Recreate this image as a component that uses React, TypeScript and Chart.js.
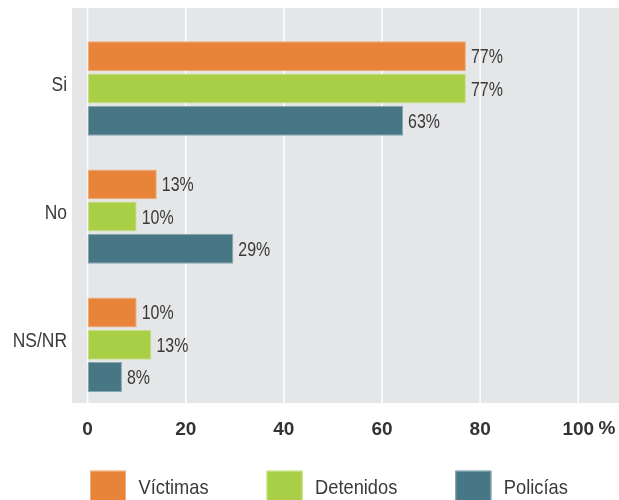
import { useEffect, useRef } from "react";
import { Chart, registerables } from "chart.js";

Chart.register(...registerables);

// ---- data ----
const categories = ["Si", "No", "NS/NR"];
const seriesNames = ["Víctimas", "Detenidos", "Policías"];
const victimas = [77.1, 14.1, 10.0];
const detenidos = [77.1, 10.0, 13.0];
const policias = [64.3, 29.7, 7.0];
const victimasLabels = ["77%", "13%", "10%"];
const detenidosLabels = ["77%", "10%", "13%"];
const policiasLabels = ["63%", "29%", "8%"];
const xTicks = [0, 20, 40, 60, 80, 100];
const xUnit = "%";

const COLORS = ["#E8833A", "#A9CF46", "#477784"];
const EDGES = ["#F2AE7A", "#CBE38A", "#86A8B2"];
const SANS = "'Liberation Sans', Arial, sans-serif";
const TEXT = "#3a3a3a";

const allLabels = [victimasLabels, detenidosLabels, policiasLabels];

// draw text horizontally condensed (the reference uses a condensed face)
function condensedText(ctx: CanvasRenderingContext2D, text: string, x: number, y: number, sx: number, align: "left" | "right") {
  ctx.save();
  ctx.translate(x, y);
  ctx.scale(sx, 1);
  ctx.textAlign = align;
  ctx.fillText(text, 0, 0);
  ctx.restore();
}

const decorPlugin = {
  id: "decor",
  beforeDraw(chart: any) {
    const { ctx, chartArea: a, scales } = chart;
    const x = scales.x;
    const top = a.top - 16.5;
    const bottom = a.bottom - 5.7;
    ctx.save();
    ctx.fillStyle = "#E5E6E8";
    ctx.fillRect(a.left, top, a.right - a.left, bottom - top);
    ctx.strokeStyle = "#FFFFFF";
    ctx.lineWidth = 1.5;
    xTicks.forEach((v) => {
      const px = x.getPixelForValue(v);
      ctx.beginPath();
      ctx.moveTo(px, top);
      ctx.lineTo(px, bottom);
      ctx.stroke();
    });
    ctx.restore();
  },
  afterDatasetsDraw(chart: any) {
    const { ctx, chartArea: a, scales } = chart;
    ctx.save();
    ctx.fillStyle = TEXT;
    ctx.textBaseline = "alphabetic";

    // value labels
    ctx.font = `21px ${SANS}`;
    chart.data.datasets.forEach((_ds: any, di: number) => {
      const meta = chart.getDatasetMeta(di);
      meta.data.forEach((el: any, i: number) => {
        condensedText(ctx, allLabels[di][i], el.x + 5, el.y + 7, 0.76, "left");
      });
    });

    // category labels
    ctx.font = `21px ${SANS}`;
    categories.forEach((c, i) => {
      const py = scales.y.getPixelForValue(i);
      condensedText(ctx, c, a.left - 5, py + 2.5, 0.83, "right");
    });

    // axis unit
    ctx.font = `bold 19px ${SANS}`;
    ctx.fillStyle = "#333333";
    ctx.textAlign = "center";
    ctx.fillText(xUnit, a.right - 12, a.bottom + 25.6);

    // legend
    const boxTop = a.bottom + 62;
    const baseY = a.bottom + 85.6;
    let lx = scales.x.getPixelForValue(0) + 2.4;
    ctx.font = `21px ${SANS}`;
    chart.data.datasets.forEach((ds: any) => {
      ctx.fillStyle = ds.backgroundColor;
      ctx.fillRect(lx, boxTop, 36, 40);
      ctx.strokeStyle = ds.borderColor;
      ctx.lineWidth = 1;
      ctx.strokeRect(lx + 0.5, boxTop + 0.5, 35, 40);
      ctx.fillStyle = TEXT;
      const tx = lx + 36 + 12.5;
      condensedText(ctx, ds.label, tx, baseY, 0.87, "left");
      const w = ctx.measureText(ds.label).width * 0.87;
      lx = tx + w + 58;
    });
    ctx.restore();
  },
};

export default function App() {
  const ref = useRef<HTMLCanvasElement | null>(null);

  useEffect(() => {
    document.body.style.margin = "0";
    if (!ref.current) return;
    const series = [victimas, detenidos, policias];
    const chart = new Chart(ref.current, {
      type: "bar",
      data: {
        labels: categories,
        datasets: series.map((d, i) => ({
          label: seriesNames[i],
          data: d,
          backgroundColor: COLORS[i],
          borderColor: EDGES[i],
          borderWidth: 1,
          borderSkipped: false,
          categoryPercentage: 0.755,
          barPercentage: 0.93,
        })),
      },
      options: {
        indexAxis: "y",
        responsive: false,
        animation: false,
        devicePixelRatio: 1,
        layout: { padding: { top: 24.5, left: 0, right: 0, bottom: 51.3 } },
        scales: {
          x: {
            type: "linear",
            min: -3.18,
            max: 108.3,
            afterBuildTicks: (scale: any) => {
              scale.ticks = xTicks.map((v) => ({ value: v }));
            },
            afterFit: (scale: any) => {
              scale.height = 40;
            },
            grid: { display: false, drawTicks: false },
            border: { display: false },
            ticks: {
              autoSkip: false,
              maxRotation: 0,
              padding: 10,
              color: "#333333",
              font: { family: SANS, size: 19, weight: "bold" },
            },
          },
          y: {
            type: "category",
            afterFit: (scale: any) => {
              scale.width = 72;
            },
            grid: { display: false, drawTicks: false },
            border: { display: false },
            ticks: { display: false },
          },
        },
        plugins: {
          tooltip: { enabled: false },
          legend: { display: false },
        },
      } as any,
      plugins: [decorPlugin],
    });
    return () => chart.destroy();
  }, []);

  return (
    <div style={{ width: 619, height: 500, overflow: "hidden" }}>
      <canvas ref={ref} width={619} height={500} style={{ display: "block" }} />
    </div>
  );
}
